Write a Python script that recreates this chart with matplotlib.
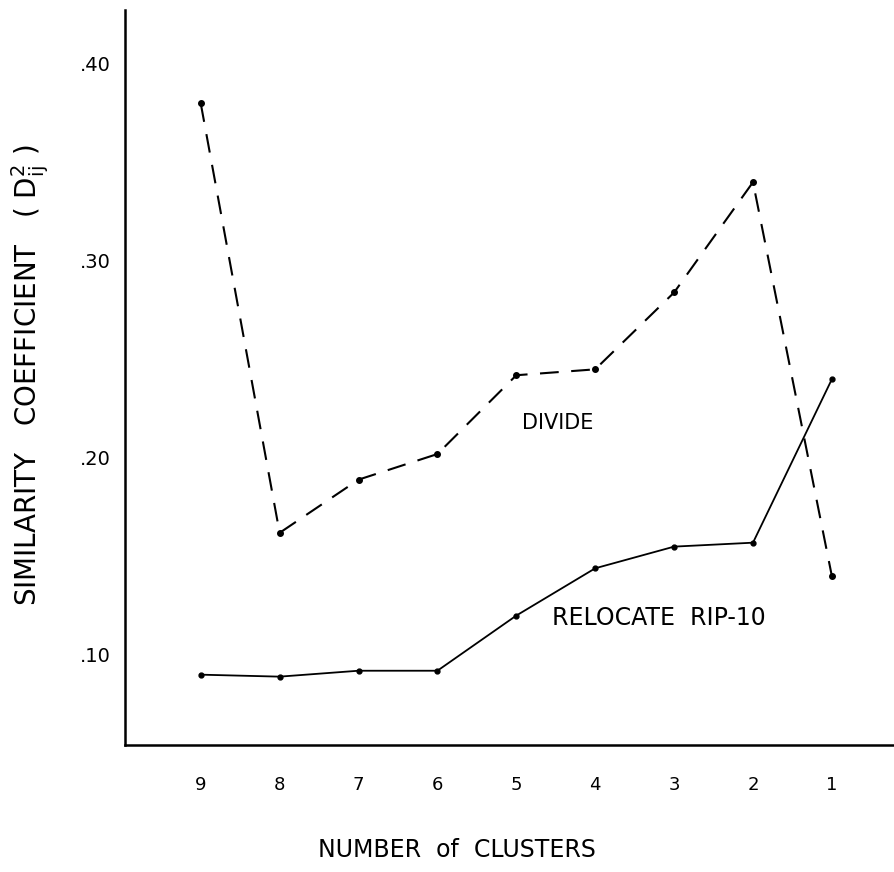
import matplotlib
matplotlib.use("Agg")
import matplotlib.pyplot as plt

# values
clusters = [9, 8, 7, 6, 5, 4, 3, 2, 1]
divide = [0.380, 0.162, 0.189, 0.202, 0.242, 0.245, 0.284, 0.340, 0.140]
relocate = [0.090, 0.089, 0.092, 0.092, 0.120, 0.144, 0.155, 0.157, 0.240]
y_ticks = [0.10, 0.20, 0.30, 0.40]
y_labels = [".10", ".20", ".30", ".40"]

fig = plt.figure(figsize=(8.95, 8.72), dpi=100)
ax = fig.add_axes([125 / 895, 1 - 745 / 872, 1 - 125 / 895, (745 - 10) / 872])

ax.plot(clusters, divide, color="black", lw=1.5, dashes=(9, 6),
        marker="o", ms=4, mfc="black", mec="black")
ax.plot(clusters, relocate, color="black", lw=1.3,
        marker="o", ms=3.5, mfc="black", mec="black")

ax.set_xlim(9.96, 0.20)
ax.set_ylim(0.0543, 0.4274)

ax.set_xticks(clusters)
ax.set_xticklabels([str(c) for c in clusters], fontsize=13)
ax.set_yticks(y_ticks)
ax.set_yticklabels(y_labels, fontsize=14)
ax.tick_params(length=0, pad=10)
ax.tick_params(axis="x", pad=22)

for s in ["top", "right"]:
    ax.spines[s].set_visible(False)
for s in ["left", "bottom"]:
    ax.spines[s].set_linewidth(1.8)

# axis titles placed by hand, as on the original drawing
fig.text(30 / 895, 1 - 375 / 872,
         r"SIMILARITY   COEFFICIENT   ( $\mathregular{D_{ij}^{2}}$ )",
         fontsize=20, rotation=90, ha="center", va="center")
fig.text(457 / 895, 1 - 850 / 872, "NUMBER  of  CLUSTERS", fontsize=17,
         ha="center", va="center")

ax.text(4.93, 0.218, "DIVIDE", fontsize=15, ha="left", va="center")
ax.text(4.55, 0.119, "RELOCATE  RIP-10", fontsize=17, ha="left", va="center")

fig.savefig("out.png", dpi=100)
